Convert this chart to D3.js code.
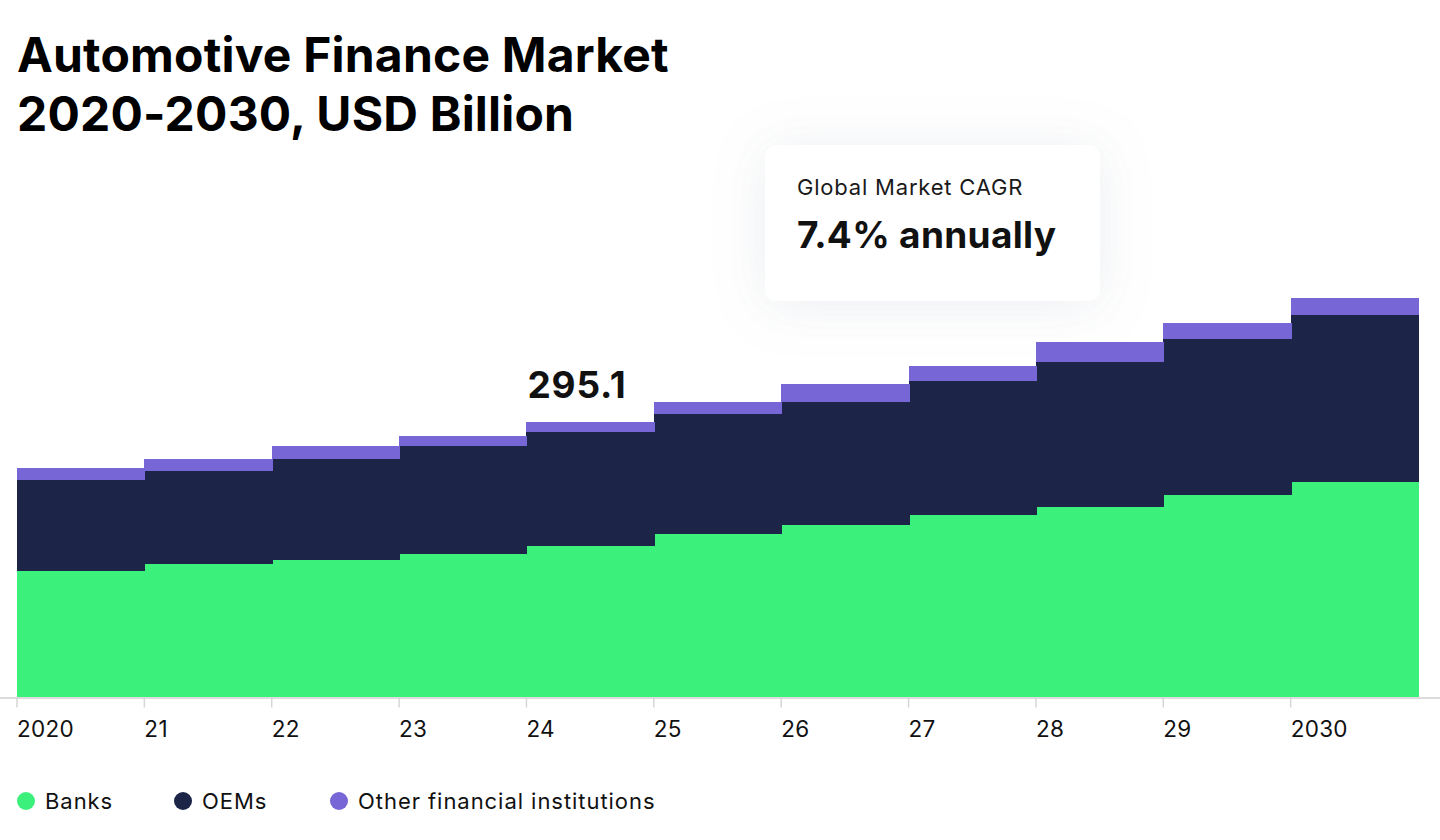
<!DOCTYPE html>
<html>
<head>
<meta charset="utf-8">
<script src="https://cdn.jsdelivr.net/npm/d3@7"></script>
<style>
  html, body { margin: 0; padding: 0; background: #fff; }
  svg { display: block; font-family: Inter, "Noto Sans", sans-serif; }
</style>
</head>
<body>
<div class="chart-container"></div>
<script>
// Data - USD Billion
const years = ['2020','2021','2022','2023','2024','2025','2026','2027','2028','2029','2030'];
const tickLabels = ['2020','21','22','23','24','25','26','27','28','29','2030'];
const banks = [135.7, 142.5, 146.8, 153.5, 162.1, 174.9, 184.3, 195.3, 203.8, 216.4, 230.3];
const oems = [97.4, 100.2, 108.4, 115.6, 122.3, 128.1, 131.9, 143.4, 155.5, 166.9, 179.3];
const others = [12.2, 12.2, 13.9, 10.7, 10.7, 13.2, 19.3, 16.0, 20.8, 17.8, 17.9];
const seriesKeys = ['Banks', 'OEMs', 'Other financial institutions'];
const colors = ['#3cf07c', '#1c2448', '#7666d6'];
const highlightYear = '2024';
const highlightText = '295.1';

// rows for d3.stack
const rows = years.map((y, i) => ({
    year: y,
    'Banks': banks[i],
    'OEMs': oems[i],
    'Other financial institutions': others[i]
}));

// Canvas
const svg_width = 1440;
const svg_height = 840;
const chart = {left: 17, right: 1418, baseline: 697.5};

const svg = d3.select('.chart-container').append('svg')
    .attr('width', svg_width).attr('height', svg_height);

// soft shadow for the CAGR card
const defs = svg.append('defs');
const shadow = defs.append('filter').attr('id', 'card-shadow')
    .attr('x', '-50%').attr('y', '-60%').attr('width', '200%').attr('height', '220%');
shadow.append('feDropShadow')
    .attr('dx', 0).attr('dy', 4).attr('stdDeviation', 26)
    .attr('flood-color', '#8a93a6').attr('flood-opacity', 0.16);

// Scales
const xScale = d3.scaleBand().domain(years).range([chart.left, chart.right]).padding(0);
// 295.1 total sits 275.8px above the baseline
const pxPerUnit = 275.8 / 295.1;
const yScale = d3.scaleLinear()
    .domain([0, chart.baseline / pxPerUnit])
    .range([chart.baseline, 0]);
const colorScale = d3.scaleOrdinal().domain(seriesKeys).range(colors);

// card behind the bars
const card = svg.append('g').attr('class', 'cagr-card');
card.append('rect')
    .attr('x', 765).attr('y', 145).attr('width', 335).attr('height', 156)
    .attr('rx', 12).attr('ry', 12)
    .style('fill', '#fff')
    .attr('filter', 'url(#card-shadow)');
card.append('text').attr('x', 797).attr('y', 195)
    .text('Global Market CAGR')
    .style('font-size', '22px').style('letter-spacing', '0.8px').style('fill', '#1a1a1a');
card.append('text').attr('x', 797).attr('y', 248)
    .text('7.4% annually')
    .style('font-size', '37px').style('letter-spacing', '0.3px')
    .style('font-weight', 700).style('fill', '#111');

// Stacked bars
const stacked = d3.stack().keys(seriesKeys)(rows);

svg.append('g').attr('class', 'bars')
    .selectAll('g')
    .data(stacked)
    .join('g')
    .style('fill', d => colorScale(d.key))
    .selectAll('rect')
    .data(d => d)
    .join('rect')
    .attr('x', d => xScale(d.data.year))
    .attr('y', d => yScale(d[1]))
    .attr('width', xScale.bandwidth() + 1)
    .attr('height', d => yScale(d[0]) - yScale(d[1]))
    .attr('shape-rendering', 'crispEdges');

// label over 2024
const hlTop = stacked[stacked.length - 1].find(d => d.data.year === highlightYear)[1];
svg.append('text')
    .attr('x', xScale(highlightYear) + 1)
    .attr('y', yScale(hlTop) - 24)
    .text(highlightText)
    .style('font-size', '37px').style('letter-spacing', '0.8px')
    .style('font-weight', 700).style('fill', '#111');

// X axis - ticks on the left edge of each bar
const xAxis = d3.axisBottom(xScale)
    .tickFormat((d, i) => tickLabels[i])
    .tickSizeInner(10)
    .tickSizeOuter(0)
    .tickPadding(14);

const xAxisDraw = svg.append('g')
    .attr('class', 'x axis')
    .attr('transform', `translate(0,${chart.baseline})`)
    .call(xAxis);

xAxisDraw.select('.domain').remove();
xAxisDraw.insert('line', ':first-child')
    .attr('x1', 0).attr('x2', svg_width)
    .attr('y1', 0.5).attr('y2', 0.5)
    .style('stroke', '#dcdcdc').style('stroke-width', 2);
xAxisDraw.selectAll('.tick').attr('transform', d => `translate(${xScale(d)},0)`);
xAxisDraw.selectAll('.tick line').style('stroke', '#d6d6d6').style('stroke-width', 1.5);
xAxisDraw.selectAll('.tick text')
    .attr('text-anchor', 'start')
    .attr('x', 0)
    .attr('dy', '0.71em')
    .style('font-family', 'Inter, sans-serif')
    .style('font-size', '22.5px')
    .style('letter-spacing', '0.3px')
    .style('fill', '#111');

// Title
const title = svg.append('g').attr('class', 'title');
title.append('text').attr('x', 17).attr('y', 72)
    .text('Automotive Finance Market');
title.append('text').attr('x', 17).attr('y', 131)
    .text('2020-2030, USD Billion');
title.selectAll('text')
    .style('font-size', '48px').style('font-weight', 700).style('fill', '#000')
    .style('letter-spacing', '0.2px');

// Legend
const legendX = [26, 183, 339];
const legend = svg.append('g').attr('class', 'legend')
    .selectAll('g')
    .data(seriesKeys)
    .join('g')
    .attr('transform', (d, i) => `translate(${legendX[i]},801)`);
legend.append('circle').attr('r', 9).style('fill', d => colorScale(d));
legend.append('text')
    .attr('x', 19).attr('y', 8)
    .text(d => d)
    .style('font-size', '22px').style('letter-spacing', '0.95px').style('fill', '#111');
</script>
</body>
</html>
